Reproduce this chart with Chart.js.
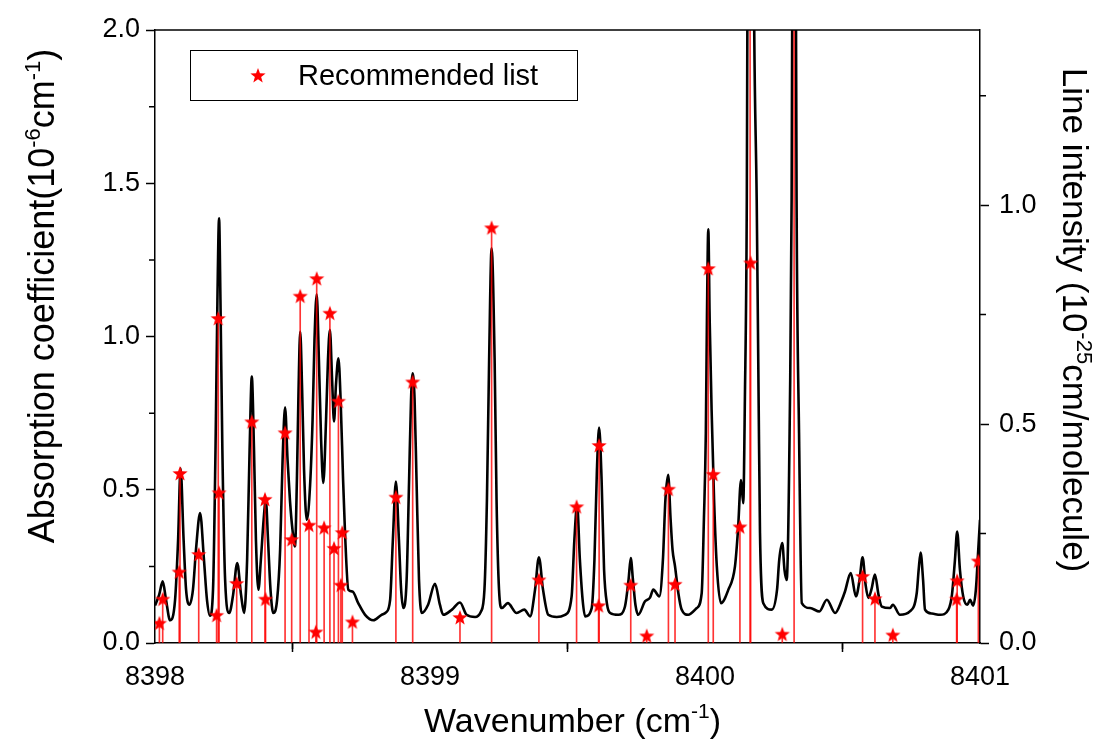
<!DOCTYPE html>
<html>
<head>
<meta charset="utf-8">
<script src="https://cdn.jsdelivr.net/npm/chart.js@4.4.1/dist/chart.umd.min.js"></script>
<style>
  html, body { margin: 0; padding: 0; background: #fff; }
  #wrap { width: 1105px; height: 746px; }
</style>
</head>
<body>
<div id="wrap"><canvas id="spectre" width="1105" height="746"></canvas></div>
<script>
// measured absorption spectrum
const wavenumber = [
  8398.000, 8398.015, 8398.028, 8398.040, 8398.055, 8398.073, 8398.084, 8398.093, 8398.104, 8398.113,
  8398.125, 8398.138, 8398.149, 8398.164, 8398.178, 8398.189, 8398.200, 8398.211, 8398.220, 8398.227,
  8398.233, 8398.238, 8398.245, 8398.255, 8398.270, 8398.284, 8398.299, 8398.313, 8398.324, 8398.335,
  8398.344, 8398.352, 8398.360, 8398.367, 8398.376, 8398.385, 8398.395, 8398.403, 8398.411, 8398.420,
  8398.430, 8398.444, 8398.455, 8398.464, 8398.473, 8398.482, 8398.491, 8398.500, 8398.509, 8398.516,
  8398.522, 8398.528, 8398.535, 8398.542, 8398.552, 8398.564, 8398.573, 8398.580, 8398.588, 8398.596,
  8398.604, 8398.612, 8398.622, 8398.629, 8398.636, 8398.644, 8398.651, 8398.658, 8398.667, 8398.675,
  8398.684, 8398.691, 8398.703, 8398.718, 8398.739, 8398.764, 8398.794, 8398.824, 8398.840, 8398.855,
  8398.865, 8398.876, 8398.887, 8398.895, 8398.903, 8398.915, 8398.924, 8398.931, 8398.937, 8398.944,
  8398.951, 8398.960, 8398.970, 8398.993, 8399.018, 8399.036, 8399.048, 8399.080, 8399.109, 8399.133,
  8399.164, 8399.185, 8399.198, 8399.207, 8399.215, 8399.224, 8399.235, 8399.242, 8399.251, 8399.261,
  8399.283, 8399.315, 8399.343, 8399.364, 8399.382, 8399.396, 8399.411, 8399.430, 8399.461, 8399.491,
  8399.515, 8399.525, 8399.535, 8399.545, 8399.555, 8399.564, 8399.588, 8399.598, 8399.607, 8399.615,
  8399.624, 8399.633, 8399.644, 8399.655, 8399.685, 8399.709, 8399.722, 8399.730, 8399.738, 8399.747,
  8399.757, 8399.782, 8399.800, 8399.812, 8399.834, 8399.847, 8399.856, 8399.866, 8399.875, 8399.882,
  8399.891, 8399.903, 8399.915, 8399.939, 8399.970, 8399.988, 8399.996, 8400.003, 8400.007, 8400.012,
  8400.017, 8400.024, 8400.033, 8400.043, 8400.058, 8400.085, 8400.109, 8400.120, 8400.131, 8400.139,
  8400.145, 8400.152, 8400.154, 8400.166, 8400.179, 8400.188, 8400.195, 8400.200, 8400.212, 8400.243,
  8400.262, 8400.270, 8400.281, 8400.289, 8400.297, 8400.309, 8400.315, 8400.317, 8400.324, 8400.331,
  8400.333, 8400.342, 8400.352, 8400.382, 8400.416, 8400.443, 8400.473, 8400.498, 8400.509, 8400.530,
  8400.549, 8400.562, 8400.573, 8400.584, 8400.594, 8400.605, 8400.618, 8400.631, 8400.643, 8400.673,
  8400.683, 8400.709, 8400.745, 8400.770, 8400.777, 8400.784, 8400.793, 8400.800, 8400.825, 8400.855,
  8400.885, 8400.898, 8400.909, 8400.917, 8400.927, 8400.939, 8400.954, 8400.964, 8400.975, 8400.985,
  8400.994, 8401.000
];
const absorption = [
  0.122, 0.157, 0.201, 0.141, 0.074, 0.141, 0.337, 0.570, 0.337, 0.174,
  0.125, 0.174, 0.304, 0.424, 0.272, 0.141, 0.089, 0.174, 0.630, 1.120,
  1.386, 1.120, 0.630, 0.206, 0.098, 0.157, 0.261, 0.157, 0.098, 0.272,
  0.630, 0.869, 0.630, 0.337, 0.174, 0.272, 0.402, 0.467, 0.337, 0.174,
  0.098, 0.141, 0.304, 0.598, 0.769, 0.598, 0.462, 0.369, 0.315, 0.532,
  0.826, 1.016, 0.826, 0.565, 0.402, 0.516, 0.728, 0.989, 1.138, 0.924,
  0.663, 0.522, 0.728, 0.924, 1.022, 0.859, 0.723, 0.842, 0.929, 0.793,
  0.532, 0.359, 0.174, 0.168, 0.130, 0.092, 0.074, 0.092, 0.100, 0.141,
  0.337, 0.527, 0.337, 0.174, 0.114, 0.206, 0.532, 0.793, 0.880, 0.793,
  0.532, 0.206, 0.098, 0.125, 0.193, 0.125, 0.092, 0.109, 0.132, 0.092,
  0.085, 0.102, 0.174, 0.467, 0.924, 1.288, 0.924, 0.467, 0.174, 0.114,
  0.130, 0.098, 0.109, 0.087, 0.174, 0.280, 0.174, 0.092, 0.085, 0.092,
  0.152, 0.337, 0.451, 0.272, 0.141, 0.087, 0.114, 0.272, 0.565, 0.703,
  0.532, 0.239, 0.125, 0.098, 0.092, 0.119, 0.206, 0.277, 0.206, 0.125,
  0.092, 0.136, 0.148, 0.174, 0.152, 0.272, 0.467, 0.549, 0.402, 0.304,
  0.250, 0.163, 0.109, 0.092, 0.114, 0.163, 0.402, 0.685, 1.054, 1.350,
  1.054, 0.761, 0.467, 0.250, 0.130, 0.174, 0.250, 0.369, 0.532, 0.456,
  0.793, 1.445, 2.000, 4.000, 2.000, 1.445, 0.793, 0.359, 0.130, 0.109,
  0.174, 0.272, 0.326, 0.239, 0.206, 0.793, 1.445, 2.000, 4.500, 2.000,
  1.445, 0.685, 0.130, 0.114, 0.103, 0.141, 0.098, 0.141, 0.168, 0.228,
  0.152, 0.206, 0.280, 0.190, 0.147, 0.174, 0.223, 0.157, 0.119, 0.114,
  0.125, 0.092, 0.103, 0.163, 0.239, 0.295, 0.206, 0.109, 0.096, 0.092,
  0.109, 0.157, 0.272, 0.364, 0.239, 0.152, 0.125, 0.141, 0.122, 0.174,
  0.310, 0.402
];

// recommended line list (positions and intensities)
const lineCenters = [
  8398.016, 8398.028, 8398.088, 8398.091, 8398.159, 8398.224, 8398.230, 8398.233, 8398.297, 8398.352,
  8398.400, 8398.402, 8398.473, 8398.497, 8398.528, 8398.560, 8398.585, 8398.588, 8398.615, 8398.636,
  8398.651, 8398.667, 8398.676, 8398.681, 8398.718, 8398.876, 8398.937, 8399.109, 8399.224, 8399.396,
  8399.533, 8399.615, 8399.613, 8399.730, 8399.788, 8399.867, 8399.891, 8400.012, 8400.030, 8400.127,
  8400.164, 8400.166, 8400.281, 8400.324, 8400.573, 8400.618, 8400.683, 8400.915, 8400.917, 8400.994
];
const lineIntensity = [
  0.044, 0.099, 0.161, 0.386, 0.201, 0.062, 0.740, 0.342, 0.135, 0.504,
  0.327, 0.099, 0.479, 0.235, 0.791, 0.268, 0.024, 0.831, 0.262, 0.752,
  0.215, 0.551, 0.131, 0.251, 0.047, 0.332, 0.595, 0.057, 0.947, 0.143,
  0.310, 0.450, 0.084, 0.131, 0.015, 0.350, 0.133, 0.854, 0.384, 0.264,
  2.200, 0.867, 0.019, 2.600, 0.151, 0.100, 0.017, 0.099, 0.141, 0.186
];

const xTicks = [8398, 8399, 8400, 8401];
const xMinorTicks = [8398.5, 8399.5, 8400.5];
const yTicks = [0, 0.5, 1.0, 1.5, 2.0];
const yMinorTicks = [0.25, 0.75, 1.25, 1.75];
const y2Ticks = [0, 0.5, 1.0];
const y2MinorTicks = [0.25, 0.75, 1.25];

const FAMILY = "'Liberation Sans', Arial, sans-serif";
Chart.defaults.font.family = FAMILY;
Chart.defaults.color = '#000';

// filled five-branch star used as point marker
function makeStar(outer, inner) {
    const size = Math.ceil(outer * 2) + 2;
    const c = document.createElement('canvas');
    c.width = c.height = size;
    const g = c.getContext('2d');
    g.translate(size / 2, size / 2);
    g.beginPath();
    for (let i = 0; i < 10; i++) {
        const r = i % 2 ? inner : outer;
        const a = -Math.PI / 2 + i * Math.PI / 5;
        g.lineTo(r * Math.cos(a), r * Math.sin(a));
    }
    g.closePath();
    g.fillStyle = '#ff0000';
    g.fill();
    return c;
}
const starImg = makeStar(8, 3.3);

// text with superscripts, centred on the current origin
function drawRich(ctx, parts, size) {
    const supSize = Math.round(size * 0.62);
    let total = 0;
    parts.forEach(p => {
        ctx.font = (p.sup ? supSize : size) + 'px ' + FAMILY;
        p.w = ctx.measureText(p.t).width;
        total += p.w;
    });
    let x = -total / 2;
    ctx.textAlign = 'left';
    ctx.textBaseline = 'alphabetic';
    parts.forEach(p => {
        ctx.font = (p.sup ? supSize : size) + 'px ' + FAMILY;
        ctx.fillText(p.t, x, p.sup ? -size * 0.4 : 0);
        x += p.w;
    });
}

const decorations = {
    id: 'decorations',
    afterDraw(chart) {
        const { ctx, chartArea: a, scales } = chart;
        ctx.save();
        ctx.strokeStyle = '#000';
        ctx.lineWidth = 1.5;

        // top frame line
        ctx.beginPath();
        ctx.moveTo(a.left, a.top);
        ctx.lineTo(a.right, a.top);
        ctx.stroke();

        // minor ticks
        ctx.beginPath();
        xMinorTicks.forEach(v => {
            const px = scales.x.getPixelForValue(v);
            ctx.moveTo(px, a.bottom);
            ctx.lineTo(px, a.bottom + 6);
        });
        yMinorTicks.forEach(v => {
            const py = scales.y.getPixelForValue(v);
            ctx.moveTo(a.left - 6, py);
            ctx.lineTo(a.left, py);
        });
        y2MinorTicks.forEach(v => {
            const py = scales.y2.getPixelForValue(v);
            ctx.moveTo(a.right, py);
            ctx.lineTo(a.right + 6, py);
        });
        ctx.stroke();

        // axis titles
        ctx.fillStyle = '#000';
        ctx.save();
        ctx.translate((a.left + a.right) / 2 + 5, 732);
        drawRich(ctx, [{ t: 'Wavenumber (cm' }, { t: '-1', sup: true }, { t: ')' }], 34);
        ctx.restore();

        ctx.save();
        ctx.translate(54, 296);
        ctx.rotate(-Math.PI / 2);
        drawRich(ctx, [{ t: 'Absorption coefficient(10' }, { t: '-6', sup: true }, { t: 'cm' }, { t: '-1', sup: true }, { t: ')' }], 36);
        ctx.restore();

        ctx.save();
        ctx.translate(1063, 320);
        ctx.rotate(Math.PI / 2);
        drawRich(ctx, [{ t: 'Line intensity (10' }, { t: '-25', sup: true }, { t: 'cm/molecule)' }], 35);
        ctx.restore();

        // legend box
        ctx.lineWidth = 1;
        ctx.strokeRect(190.5, 50.5, 387, 50);
        ctx.drawImage(starImg, 258 - starImg.width / 2, 76 - starImg.height / 2);
        ctx.font = '29px ' + FAMILY;
        ctx.textAlign = 'left';
        ctx.textBaseline = 'middle';
        ctx.fillText(chart.data.datasets[0].label, 298, 77);

        ctx.restore();
    }
};

const tickFont = { size: 27 };
const axisGrid = { drawOnChartArea: false, drawTicks: true, tickLength: 9, tickColor: '#000', tickWidth: 1.5 };
const axisBorder = { color: '#000', width: 1.5 };

new Chart(document.getElementById('spectre'), {
    type: 'line',
    data: {
        datasets: [
            {
                type: 'scatter',
                label: 'Recommended list',
                data: lineCenters.map((x, i) => ({ x: x, y: lineIntensity[i] })),
                pointStyle: starImg,
                yAxisID: 'y2',
                order: 1
            },
            {
                type: 'bar',
                label: 'sticks',
                data: lineCenters.map((x, i) => ({ x: x, y: lineIntensity[i] })),
                backgroundColor: 'rgba(255, 0, 0, 0.8)',
                barThickness: 1,
                grouped: false,
                yAxisID: 'y2',
                order: 2
            },
            {
                type: 'line',
                label: 'spectrum',
                data: wavenumber.map((x, i) => ({ x: x, y: absorption[i] })),
                borderColor: '#000',
                borderWidth: 2.6,
                pointRadius: 0,
                cubicInterpolationMode: 'monotone',
                yAxisID: 'y',
                order: 3
            }
        ]
    },
    options: {
        responsive: false,
        animation: false,
        layout: { padding: { top: 30, left: 0, right: 0, bottom: 0 } },
        plugins: {
            legend: { display: false },
            tooltip: { enabled: false }
        },
        scales: {
            x: {
                type: 'linear',
                min: 8398,
                max: 8401,
                offset: false,
                afterBuildTicks: s => { s.ticks = xTicks.map(v => ({ value: v })); },
                afterFit: s => { s.height = 103; },
                ticks: { font: tickFont, color: '#000', padding: 9, maxRotation: 0, autoSkip: false, callback: v => String(v) },
                grid: axisGrid,
                border: axisBorder
            },
            y: {
                position: 'left',
                min: 0,
                max: 2,
                afterBuildTicks: s => { s.ticks = yTicks.map(v => ({ value: v })); },
                afterFit: s => { s.width = 155; },
                ticks: { font: tickFont, color: '#000', padding: 6, callback: v => v.toFixed(1) },
                grid: axisGrid,
                border: axisBorder
            },
            y2: {
                position: 'right',
                min: 0,
                max: 1.4,
                afterBuildTicks: s => { s.ticks = y2Ticks.map(v => ({ value: v })); },
                afterFit: s => { s.width = 125; },
                ticks: { font: tickFont, color: '#000', padding: 10, callback: v => v.toFixed(1) },
                grid: axisGrid,
                border: axisBorder
            }
        }
    },
    plugins: [decorations]
});
</script>
</body>
</html>
